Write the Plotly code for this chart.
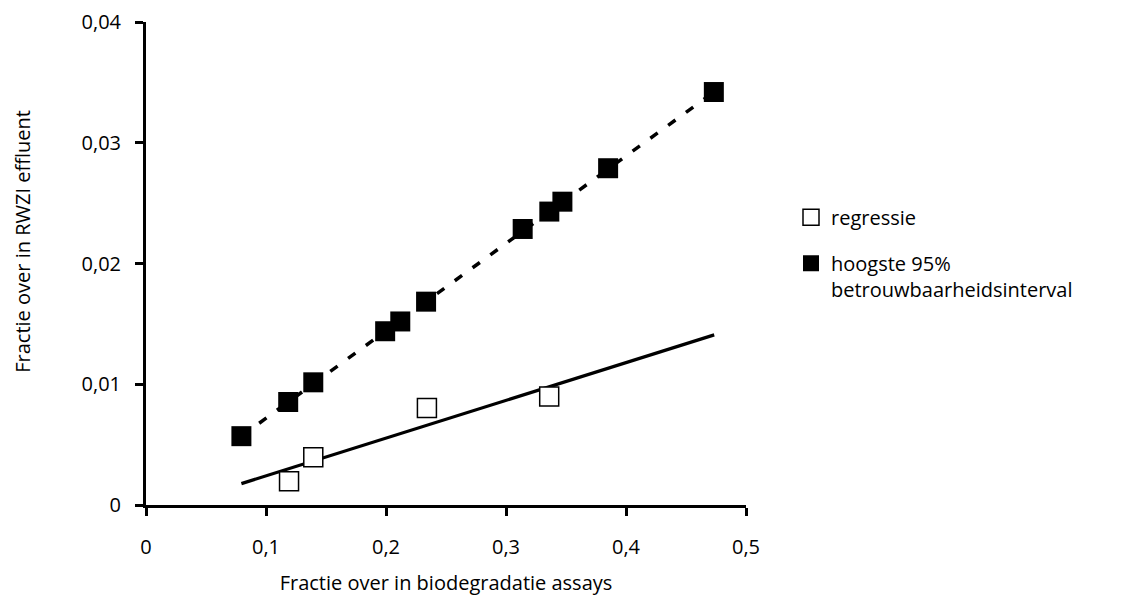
import plotly.graph_objects as go

# Data
reg_x = [0.1192, 0.1394, 0.2341, 0.336]
reg_y = [0.00196, 0.00395, 0.00804, 0.00899]
reg_line_x = [0.0795, 0.4735]
reg_line_y = [0.00177, 0.01409]

hi_x = [0.0795, 0.1185, 0.1394, 0.1993, 0.2119, 0.2334, 0.3139, 0.3361, 0.347, 0.3851, 0.4732]
hi_y = [0.0057, 0.00853, 0.01016, 0.01439, 0.0152, 0.01684, 0.02286, 0.0243, 0.02512, 0.02789, 0.0342]
hi_line_x = [0.0795, 0.4732]
hi_line_y = [0.0057, 0.0342]

x_ticks = [0, 0.1, 0.2, 0.3, 0.4, 0.5]
x_labels = ["0", "0,1", "0,2", "0,3", "0,4", "0,5"]
y_ticks = [0, 0.01, 0.02, 0.03, 0.04]
y_labels = ["0", "0,01", "0,02", "0,03", "0,04"]

FONT = "Open Sans"
FS = 20

fig = go.Figure()
fig.add_trace(go.Scatter(x=reg_line_x, y=reg_line_y, mode="lines",
                         line=dict(color="black", width=3.2), showlegend=False, hoverinfo="skip"))
fig.add_trace(go.Scatter(x=hi_line_x, y=hi_line_y, mode="lines",
                         line=dict(color="black", width=3.5, dash="9px,13px"), showlegend=False, hoverinfo="skip"))
fig.add_trace(go.Scatter(x=reg_x, y=reg_y, mode="markers", name="regressie", legendgroup="a",
                         marker=dict(symbol="square", size=19, color="white",
                                     line=dict(color="black", width=1.5))))
fig.add_trace(go.Scatter(x=hi_x, y=hi_y, mode="markers", name="hoogste 95%<br>betrouwbaarheidsinterval",
                         legendgroup="b",
                         marker=dict(symbol="square", size=20, color="black",
                                     line=dict(color="black", width=0))))

axis_common = dict(showgrid=False, zeroline=False, showline=True, linecolor="black", linewidth=3,
                   ticks="outside", ticklen=8, tickwidth=3, tickcolor="black", automargin=False,
                   ticklabeloverflow="allow",
                   tickfont=dict(family=FONT, size=FS, color="black"))

fig.update_layout(
    width=1135, height=598,
    margin=dict(l=138, r=397, t=14, b=101),
    paper_bgcolor="white", plot_bgcolor="white",
    font=dict(family=FONT, size=FS, color="black"),
    xaxis=dict(range=[0, 0.5], tickvals=x_ticks, ticktext=x_labels, ticklabelstandoff=14,
               title=dict(text="Fractie over in biodegradatie assays", font=dict(family=FONT, size=FS), standoff=17),
               **axis_common),
    yaxis=dict(range=[0, 0.04], tickvals=y_ticks, ticktext=y_labels, ticklabelstandoff=10, **axis_common),
    legend=dict(x=1.075, y=0.636, xanchor="left", yanchor="top", valign="top",
                tracegroupgap=17, itemsizing="trace",
                font=dict(family=FONT, size=FS, color="black"), bgcolor="rgba(0,0,0,0)"),
    annotations=[dict(text="Fractie over in RWZI effluent", textangle=-90, showarrow=False,
                      xref="paper", yref="paper", x=-0.205, y=0.545, xanchor="center", yanchor="middle",
                      font=dict(family=FONT, size=FS, color="black"))],
)

fig.write_html("out.html")
